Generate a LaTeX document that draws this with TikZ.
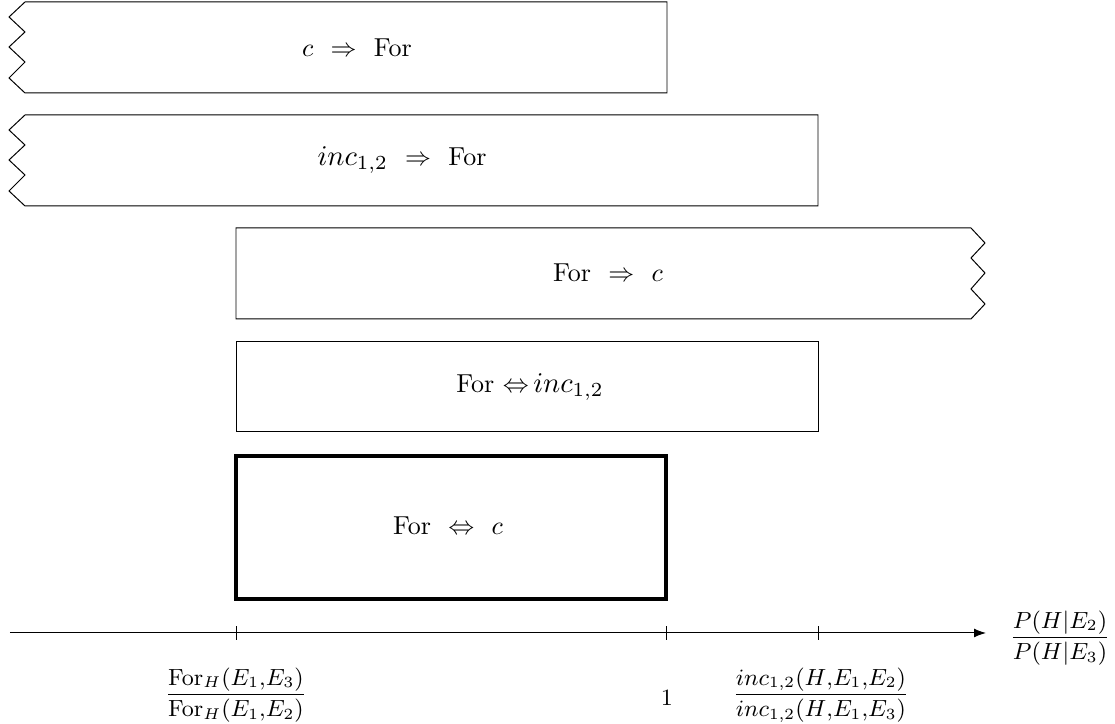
\documentclass[tikz,border=0pt]{standalone}
\usetikzlibrary{arrows.meta}
\newcommand{\incbig}{\scalebox{1.1}{$inc_{1,2}$}}
\begin{document}
\begin{tikzpicture}[x=0.385pt,y=-0.385pt,
  box/.style={draw=black,line width=0.38pt,line join=miter},
  thickbox/.style={draw=black,line width=1.2pt},
  lbl/.style={inner sep=0pt,anchor=center},
  axlbl/.style={inner sep=0pt,anchor=center,font=\small},
  axis/.style={draw=black,line width=0.38pt,-{Latex[length=4.6pt,width=3.4pt]}},
  tick/.style={draw=black,line width=0.38pt}]
\useasboundingbox (0,0) rectangle (1115,724);
% box 1
\draw[box] (25,2) -- (667,2) -- (667,93) -- (25,93) -- (9,78) -- (25,62) -- (9,47) -- (25,32) -- (9,17) -- cycle;
\node[lbl] (t1) at (357,48) {$c$ \ $\Rightarrow$ \ For};
% box 2
\draw[box] (25,115) -- (818,115) -- (818,206) -- (25,206) -- (9,191) -- (25,175) -- (9,160) -- (25,145) -- (9,130) -- cycle;
\node[lbl] (t2) at (402,160) {\incbig{} \ $\Rightarrow$ \ For};
% box 3
\draw[box] (236,228) -- (971,228) -- (985,243) -- (971,258) -- (985,273) -- (971,289) -- (985,304) -- (971,319) -- (236,319) -- cycle;
\node[lbl] (t3) at (608,273) {For \ $\Rightarrow$ \ $c$};
% box 4
\draw[box] (236,342) rectangle (818,432);
\node[lbl] (t4) at (530,387) {For $\Leftrightarrow$\,\incbig};
% box 5
\draw[thickbox] (236,456) rectangle (666,599);
\node[lbl] (t5) at (448,526) {For \ $\Leftrightarrow$ \ $c$};
% axis
\coordinate (a0) at (10,633);
\coordinate (a1) at (986,633);
\draw[axis] (a0) -- (a1);
\coordinate (k1) at (236,633);
\coordinate (k2) at (666,633);
\coordinate (k3) at (818,633);
\foreach \k in {k1,k2,k3} \draw[tick] ([yshift=-7*0.385pt]\k) -- ([yshift=7*0.385pt]\k);
\node[axlbl] (l1) at (236,695) {$\displaystyle\frac{\mathrm{For}_H(E_1{,}E_3)}{\mathrm{For}_H(E_1{,}E_2)}$};
\node[axlbl] (l2) at (667,698) {$1$};
\node[axlbl] (l3) at (821,695) {$\displaystyle\frac{inc_{1,2}(H{,}E_1{,}E_2)}{inc_{1,2}(H{,}E_1{,}E_3)}$};
\node[axlbl] (l4) at (1060,638) {$\displaystyle\frac{P(H|E_2)}{P(H|E_3)}$};
\end{tikzpicture}
\end{document}
